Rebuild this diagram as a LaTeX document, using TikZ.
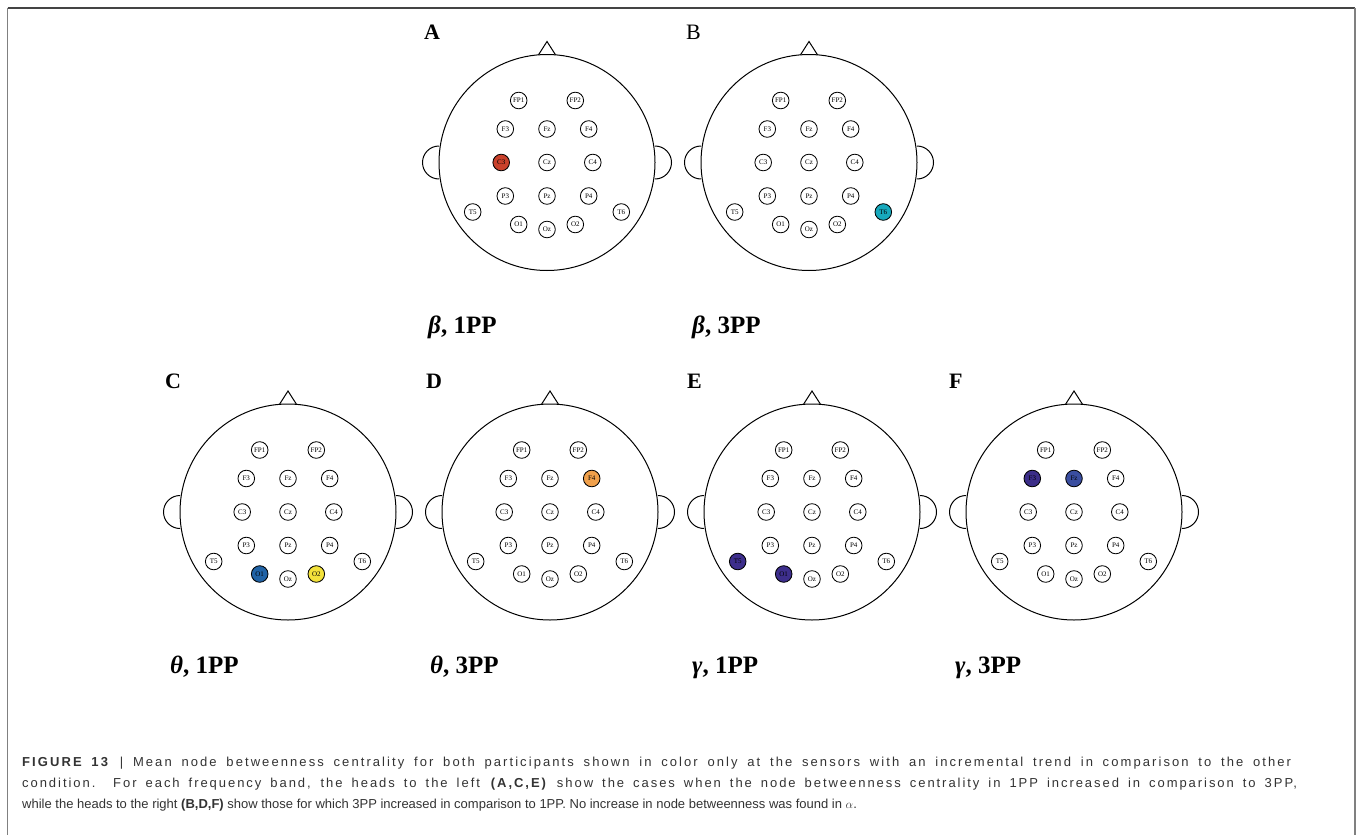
\documentclass[tikz,border=0pt]{standalone}
\usepackage{fontspec}
\setmainfont{Liberation Serif}
\setsansfont{Liberation Sans}
\definecolor{capgray}{HTML}{333333}
\definecolor{cRed}{HTML}{C9412B}
\definecolor{cTeal}{HTML}{17A9BD}
\definecolor{cBlue}{HTML}{2163A6}
\definecolor{cYellow}{HTML}{F3E23B}
\definecolor{cOrange}{HTML}{F0A04B}
\definecolor{cPurple}{HTML}{3D2E8C}
\definecolor{cIndigo}{HTML}{3B2D88}
\definecolor{cSlate}{HTML}{3A4EA0}
\definecolor{frametop}{HTML}{444444}
\definecolor{frameside}{HTML}{808080}
\tikzset{
  headc/.style={circle, draw, line width=1pt, minimum size=216pt, inner sep=0pt},
  headline/.style={line width=1pt},
  elec/.style={circle, draw, line width=0.85pt, minimum size=16.6pt, inner sep=0pt,
    font=\fontsize{7}{7}\selectfont, fill=white},
  panel/.style={anchor=base west, inner sep=0pt, font=\fontsize{22}{22}\selectfont\bfseries},
  panelreg/.style={anchor=base west, inner sep=0pt, font=\fontsize{22}{22}\selectfont},
  cond/.style={anchor=base west, inner sep=0pt, font=\fontsize{25}{25}\selectfont\bfseries},
  capline/.style={anchor=base west, inner sep=0pt, text=capgray, font=\sffamily\fontsize{13}{21}\selectfont},
  hl-A-C3/.style={fill=cRed},
  hl-B-T6/.style={fill=cTeal},
  hl-C-O1/.style={fill=cBlue},
  hl-C-O2/.style={fill=cYellow},
  hl-D-F4/.style={fill=cOrange},
  hl-E-T5/.style={fill=cPurple},
  hl-E-O1/.style={fill=cPurple},
  hl-F-F3/.style={fill=cIndigo},
  hl-F-Fz/.style={fill=cSlate},
}
\newcommand\eeghead[3]{%
  \begin{scope}[shift={(#2,#3)}]
    \node[headc] (#1) at (0,0) {};
    \draw[headline] (-108,-16.5) arc[start angle=270, end angle=90, radius=16.5];
    \draw[headline] (108,-16.5) arc[start angle=-90, end angle=90, radius=16.5];
    \draw[headline, line join=miter] (-8.5,-107.7) -- (0,-121) -- (8.5,-107.7);
    \foreach \n/\ex/\ey in {FP1/-28.3/-62, FP2/28.3/-62, F3/-41.7/-33.5, Fz/0/-33.5,
        F4/41.7/-33.5, C3/-45.8/0, Cz/0/0, C4/45.8/0, P3/-41.7/33.5, Pz/0/33.5,
        P4/41.7/33.5, T5/-74.3/49.5, T6/74.3/49.5, O1/-28.3/62, Oz/0/67, O2/28.3/62}{%
      \edef\tmpnode{\noexpand\node[elec,hl-#1-\n/.try] (#1-\n) at (\ex,\ey) {\n};}%
      \tmpnode
    }
  \end{scope}%
}
\begin{document}
\begin{tikzpicture}[x=1pt,y=-1pt]
  \useasboundingbox (0,0) rectangle (1360,835);
  \fill[white] (0,0) rectangle (1360,835);
  % frame
  \draw[frametop, line width=1.2pt] (7.5,8) -- (1355,8);
  \draw[frameside, line width=1.2pt] (7.5,8) -- (7.5,835);
  \draw[frameside, line width=1.2pt] (1355,8) -- (1355,835);

  % heads
  \eeghead{A}{547}{162.5}
  \eeghead{B}{809}{162.5}
  \eeghead{C}{288}{512}
  \eeghead{D}{550}{512}
  \eeghead{E}{812}{512}
  \eeghead{F}{1074}{512}

  % panel letters
  \node[panel] (lA) at (424,39.5) {A};
  \node[panelreg] (lB) at (686,39.5) {B};
  \node[panel] (lC) at (165,388.5) {C};
  \node[panel] (lD) at (426,388.5) {D};
  \node[panel] (lE) at (687,388.5) {E};
  \node[panel] (lF) at (949,388.5) {F};

  % condition labels
  \node[cond] (cA) at (428,333) {{\itshape β}, 1PP};
  \node[cond] (cB) at (692,333) {{\itshape β}, 3PP};
  \node[cond] (cC) at (170,673) {{\itshape θ}, 1PP};
  \node[cond] (cD) at (430,673) {{\itshape θ}, 3PP};
  \node[cond] (cE) at (692,673) {{\itshape γ}, 1PP};
  \node[cond] (cF) at (955,673) {{\itshape γ}, 3PP};

  % caption
  \node[capline] (cap1) at (22,766.5) {\addfontfeatures{LetterSpace=16}\makebox[1269pt][s]{\textbf{FIGURE 13} | Mean node betweenness centrality for both participants shown in color only at the sensors with an incremental trend in comparison to the other}};
  \node[capline] (cap2) at (22,787.5) {\addfontfeatures{LetterSpace=15}\makebox[1275pt][s]{condition. For each frequency band, the heads to the left \textbf{(A,C,E)} show the cases when the node betweenness centrality in 1PP increased in comparison to 3PP,}};
  \node[capline] (cap3) at (22,808.5) {while the heads to the right \textbf{(B,D,F)} show those for which 3PP increased in comparison to 1PP. No increase in node betweenness was found in $\alpha$.};
\end{tikzpicture}
\end{document}
